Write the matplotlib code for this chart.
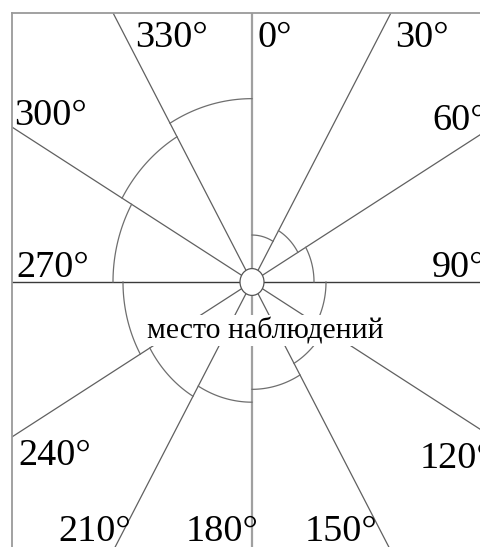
import numpy as np
import matplotlib
matplotlib.use("Agg")
import matplotlib.pyplot as plt
from matplotlib.patches import Ellipse

# ---- data ----
directions = [0, 30, 60, 90, 120, 150, 180, 210, 240, 270, 300, 330]          # ray bearings, degrees
labels = ["0°", "30°", "60°", "90°", "120°", "150°", "180°", "210°", "240°", "270°", "300°", "330°"]
sector_start = [0, 30, 60, 90, 120, 150, 180, 210, 240, 270, 300, 330]        # sector start bearings
sector_radius = [42, 53, 62, 74, 84, 96, 107.5, 118, 129, 139, 150, 164]      # arc radius per sector
center_label = "место наблюдений"

# ---- layout ----
W, H = 481, 547
cx, cy = 252, 282
sy = 1.118          # vertical stretch of the drawing
r0 = 12             # radius of the observation-point circle
label_pos = {"0°": (258, 47), "30°": (395, 47), "60°": (432, 130), "90°": (432, 277),
             "120°": (420, 468), "150°": (305, 541), "180°": (186, 541), "210°": (58, 541),
             "240°": (18, 465), "270°": (16, 277), "300°": (14, 125), "330°": (135, 47)}

fig = plt.figure(figsize=(W / 100, H / 100), dpi=100)
ax = fig.add_axes([12 / W, 0, (W - 12) / W, (H - 13) / H])
ax.set_xlim(12, W)
ax.set_ylim(H, 13)
ax.set_xticks([])
ax.set_yticks([])
for side in ("right", "bottom"):
    ax.spines[side].set_visible(False)
for side in ("left", "top"):
    ax.spines[side].set_color("#9a9a9a")
    ax.spines[side].set_linewidth(1.3)


def to_xy(r, bearing_deg):
    t = np.deg2rad(bearing_deg)
    return cx + r * np.sin(t), cy - sy * r * np.cos(t)


# rays
for d in directions:
    x0, y0 = to_xy(r0, d)
    x1, y1 = to_xy(900, d)
    if d in (0, 180):
        col, lw = "#a0a0a0", 1.6
    elif d in (90, 270):
        col, lw = "#3a3a3a", 1.0
    else:
        col, lw = "#606060", 0.9
    ax.plot([x0, x1], [y0, y1], color=col, lw=lw, zorder=2)

# sector arcs
for a, r in zip(sector_start, sector_radius):
    th = np.linspace(a, a + 30, 60)
    x, y = to_xy(r, th)
    ax.plot(x, y, color="#6e6e6e", lw=0.9, zorder=2)

# observation point
ax.add_patch(Ellipse((cx, cy), 2 * r0, 2 * r0 * sy, facecolor="white",
                     edgecolor="#555555", lw=0.9, zorder=3))

# direction labels
for lab in labels:
    x, y = label_pos[lab]
    ax.text(x, y, lab, fontsize=27.5, family="Liberation Serif", ha="left",
            va="baseline", color="black", zorder=4, clip_on=False)

# centre caption with white background
ax.text(265, 338, center_label, fontsize=21.5, family="Liberation Serif", ha="center",
        va="baseline", color="black", zorder=5,
        bbox=dict(facecolor="white", edgecolor="none", pad=1.5))

fig.savefig("out.png", dpi=100)
